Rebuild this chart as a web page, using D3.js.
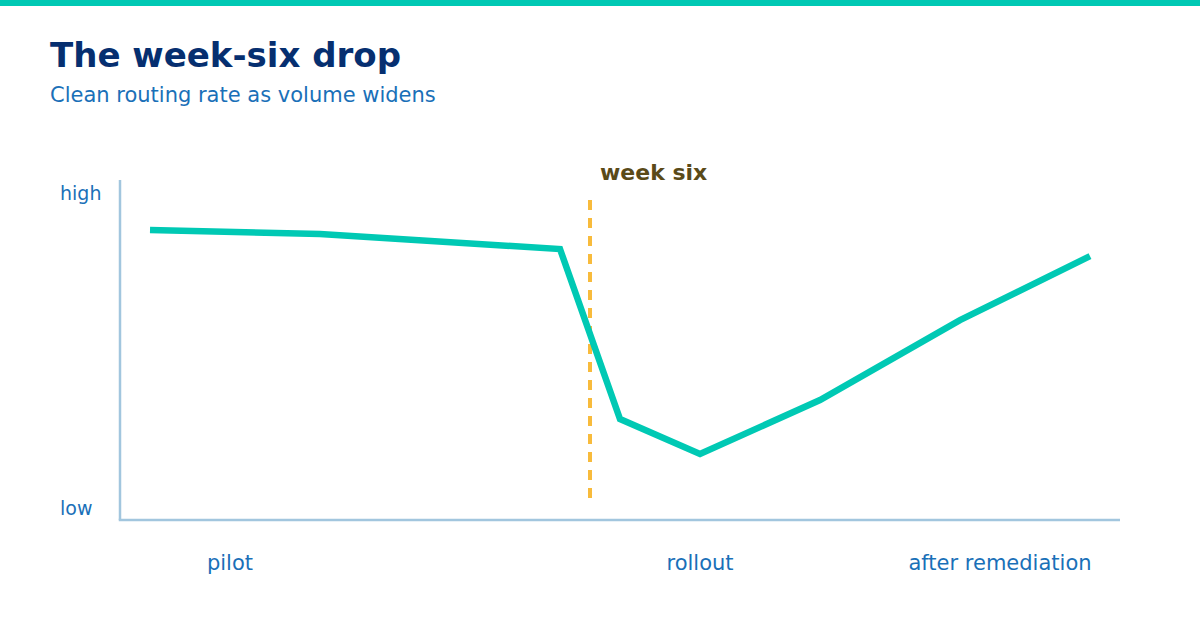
<!DOCTYPE html>
<html>
<head>
<meta charset="utf-8">
<script src="https://cdn.jsdelivr.net/npm/d3@7"></script>
<style>
  html, body { margin: 0; padding: 0; background: #ffffff; }
  svg { display: block; font-family: "DejaVu Sans", sans-serif; }
</style>
</head>
<body>
<svg id="chart" width="1200" height="620"></svg>
<script>
// ---- data ----
const weekPos   = [3, 20, 44, 50, 58, 70, 84, 97];          // position along the programme timeline (0-100)
const cleanRate = [85.3, 84.1, 79.7, 29.7, 19.4, 35.3, 58.8, 77.6]; // relative clean routing rate (0 = low, 100 = high)
const phaseLabels = ["pilot", "rollout", "after remediation"];
const phasePos    = [11, 58, 88];
const yTickLabels = ["high", "low"];
const yTickValues = [96, 3.4];
const markerPos   = 47;
const markerLabel = "week six";
const titleText = "The week-six drop";
const subtitleText = "Clean routing rate as volume widens";

// ---- layout ----
const W = 1200, H = 620;
const svg = d3.select("#chart");
const x = d3.scaleLinear().domain([0, 100]).range([120, 1120]);
const y = d3.scaleLinear().domain([0, 100]).range([520, 180]);

const teal = "#00c9b4";

// top bar
svg.append("rect").attr("x", 0).attr("y", 0).attr("width", W).attr("height", 6).attr("fill", teal);

// title
svg.append("text").attr("x", 50).attr("y", 67)
  .attr("font-size", 34).attr("font-weight", "bold").attr("fill", "#062f70")
  .text(titleText);
svg.append("text").attr("x", 50).attr("y", 102)
  .attr("font-size", 21).attr("fill", "#1a70b8")
  .text(subtitleText);

// axes
const axisColor = "#a2c6de";
svg.append("line").attr("x1", x(0)).attr("x2", x(0)).attr("y1", y(100)).attr("y2", y(0))
  .attr("stroke", axisColor).attr("stroke-width", 2.5);
svg.append("line").attr("x1", x(0) - 1.25).attr("x2", x(100)).attr("y1", y(0)).attr("y2", y(0))
  .attr("stroke", axisColor).attr("stroke-width", 2.5);

// y labels
svg.selectAll("text.ylab").data(yTickLabels).enter().append("text")
  .attr("class", "ylab")
  .attr("x", 60)
  .attr("y", (d, i) => y(yTickValues[i]))
  .attr("dy", "0.35em")
  .attr("font-size", 19).attr("fill", "#1a70b8")
  .text(d => d);

// x phase labels
svg.selectAll("text.xlab").data(phaseLabels).enter().append("text")
  .attr("class", "xlab")
  .attr("x", (d, i) => x(phasePos[i]))
  .attr("y", 570)
  .attr("text-anchor", "middle")
  .attr("font-size", 21).attr("fill", "#1a70b8")
  .text(d => d);

// marker
svg.append("line")
  .attr("x1", x(markerPos)).attr("x2", x(markerPos))
  .attr("y1", y(94.1)).attr("y2", y(6.5))
  .attr("stroke", "#f8bb3c").attr("stroke-width", 4)
  .attr("stroke-dasharray", "10,8");
svg.append("text")
  .attr("x", x(markerPos) + 10).attr("y", 180)
  .attr("font-size", 22).attr("font-weight", "bold").attr("fill", "#5a4a18")
  .text(markerLabel);

// line
const pts = weekPos.map((p, i) => [p, cleanRate[i]]);
const line = d3.line().x(d => x(d[0])).y(d => y(d[1]));
svg.append("path").datum(pts)
  .attr("d", line)
  .attr("fill", "none")
  .attr("stroke", teal)
  .attr("stroke-width", 6.5)
  .attr("stroke-linejoin", "miter")
  .attr("stroke-linecap", "butt");
</script>
</body>
</html>
